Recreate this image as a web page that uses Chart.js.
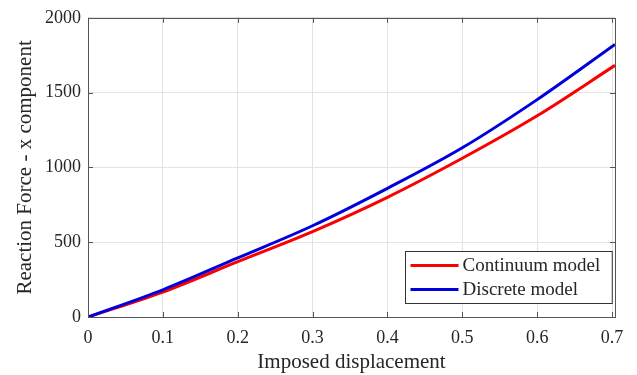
<!DOCTYPE html>
<html>
<head>
<meta charset="utf-8">
<script src="https://cdn.jsdelivr.net/npm/chart.js@4.4.1/dist/chart.umd.min.js"></script>
<style>
  html, body { margin: 0; padding: 0; background: #ffffff; }
  #wrap { width: 637px; height: 375px; position: relative; }
</style>
</head>
<body>
<div id="wrap"><canvas id="c" width="637" height="375"></canvas></div>
<script>
// ---- data ----
const displacement = [0, 0.1, 0.2, 0.3, 0.4, 0.5, 0.6, 0.704];
const continuumModel = [0, 167, 370, 571, 800, 1061, 1345, 1682];
const discreteModel = [0, 182, 395, 610, 860, 1131, 1453, 1822];
const seriesNames = ['Continuum model', 'Discrete model'];
const xTickValues = [0, 0.1, 0.2, 0.3, 0.4, 0.5, 0.6, 0.7];
const yTickValues = [0, 500, 1000, 1500, 2000];
const xTitle = 'Imposed displacement';
const yTitle = 'Reaction Force - x component';

const FONT = "'Liberation Serif', 'Times New Roman', serif";
const TEXT = '#262626';
const AXIS = '#555555';

function pts(ys) { return displacement.map((x, i) => ({ x: x, y: ys[i] })); }

const boxPlugin = {
  id: 'matlabBox',
  afterDatasetsDraw(chart) {
    const { ctx, chartArea: a, scales } = chart;
    ctx.save();
    ctx.strokeStyle = AXIS;
    ctx.lineWidth = 1;
    const tl = 5;
    ctx.beginPath();
    xTickValues.forEach(v => {
      const px = Math.round(scales.x.getPixelForValue(v)) + 0.5;
      ctx.moveTo(px, a.bottom); ctx.lineTo(px, a.bottom - tl);
      ctx.moveTo(px, a.top); ctx.lineTo(px, a.top + tl);
    });
    yTickValues.forEach(v => {
      const py = Math.round(scales.y.getPixelForValue(v)) + 0.5;
      ctx.moveTo(a.left, py); ctx.lineTo(a.left + tl, py);
      ctx.moveTo(a.right, py); ctx.lineTo(a.right - tl, py);
    });
    ctx.stroke();
    ctx.strokeRect(Math.round(a.left) + 0.5, Math.round(a.top) + 0.5,
                   Math.round(a.right - a.left), Math.round(a.bottom - a.top));
    ctx.restore();
  },
  afterDraw(chart) {
    // legend inside plot, lower right
    const { ctx, chartArea: a } = chart;
    ctx.save();
    ctx.font = '19px ' + FONT;
    const items = chart.data.datasets.map(d => ({ label: d.label, color: d.borderColor }));
    items.sort((p, q) => seriesNames.indexOf(p.label) - seriesNames.indexOf(q.label));
    const tw = Math.max(...items.map(it => ctx.measureText(it.label).width));
    const lineLen = 48, padL = 5, gap = 4, padR = 12, rowH = 24, padV = 2;
    const w = padL + lineLen + gap + tw + padR;
    const h = items.length * rowH + padV * 2;
    const right = a.right - 3, bottom = a.bottom - 14;
    const x0 = Math.round(right - w) + 0.5, y0 = Math.round(bottom - h) + 0.5;
    ctx.fillStyle = '#ffffff';
    ctx.fillRect(x0, y0, w, h);
    ctx.strokeStyle = '#333333';
    ctx.lineWidth = 1;
    ctx.strokeRect(x0, y0, w, h);
    items.forEach((it, i) => {
      const cy = y0 + padV + rowH * i + rowH / 2;
      ctx.strokeStyle = it.color;
      ctx.lineWidth = 3;
      ctx.beginPath();
      ctx.moveTo(x0 + padL, cy);
      ctx.lineTo(x0 + padL + lineLen, cy);
      ctx.stroke();
      ctx.fillStyle = TEXT;
      ctx.textBaseline = 'middle';
      ctx.textAlign = 'left';
      ctx.fillText(it.label, x0 + padL + lineLen + gap, cy + 1);
    });
    ctx.restore();
  }
};

new Chart(document.getElementById('c'), {
  type: 'line',
  data: {
    datasets: [
      { label: seriesNames[0], data: pts(continuumModel), borderColor: 'rgb(250,0,0)',
        borderWidth: 3, pointRadius: 0, fill: false, cubicInterpolationMode: 'monotone', order: 1 },
      { label: seriesNames[1], data: pts(discreteModel), borderColor: 'rgb(0,0,220)',
        borderWidth: 3, pointRadius: 0, fill: false, cubicInterpolationMode: 'monotone', order: 0 }
    ]
  },
  options: {
    responsive: false,
    animation: false,
    devicePixelRatio: 1,
    layout: { padding: { top: 17, right: 22, left: 0, bottom: 0 } },
    plugins: { legend: { display: false }, tooltip: { enabled: false } },
    scales: {
      x: {
        type: 'linear', min: 0, max: 0.704,
        afterBuildTicks(s) { s.ticks = xTickValues.map(v => ({ value: v })); },
        afterFit(s) { s.height = 58; },
        grid: { color: '#e3e3e3', drawTicks: false, lineWidth: 1 },
        border: { display: false },
        ticks: { font: { family: FONT, size: 18 }, color: TEXT, padding: 10, maxRotation: 0,
                 callback: v => String(v) },
        title: { display: true, text: xTitle, font: { family: FONT, size: 21 }, color: TEXT,
                 padding: { top: 0, bottom: 0 } }
      },
      y: {
        type: 'linear', min: 0, max: 2000,
        afterBuildTicks(s) { s.ticks = yTickValues.map(v => ({ value: v })); },
        afterFit(s) { s.width = 88; },
        grid: { color: '#e3e3e3', drawTicks: false, lineWidth: 1 },
        border: { display: false },
        ticks: { font: { family: FONT, size: 18 }, color: TEXT, padding: 7,
                 callback: v => String(v) },
        title: { display: true, text: yTitle, font: { family: FONT, size: 21 }, color: TEXT,
                 padding: { top: 13, bottom: 0 } }
      }
    }
  },
  plugins: [boxPlugin]
});
</script>
</body>
</html>
